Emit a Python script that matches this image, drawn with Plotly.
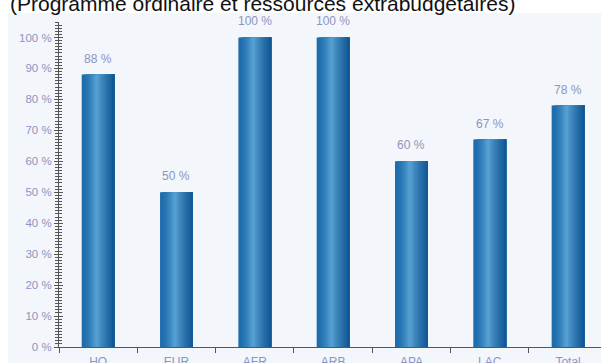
import plotly.graph_objects as go

# Data
categories = ["HQ", "EUR", "AFR", "ARB", "APA", "LAC", "Total"]
values = [88, 50, 100, 100, 60, 67, 78]
y_ticks = list(range(0, 101, 10))
y_tick_labels = [f"{t} %" for t in y_ticks]

title = "(Programme ordinaire et ressources extrabudgétaires)"

# Style
bg = "#f3f6fa"
label_color = "#8c95c2"
axis_color = "#555555"
bar_width = 0.42

# Horizontal gradient across each bar: dark edges, light band near the middle
def lerp(c1, c2, t):
    return tuple(round(a + (b - a) * t) for a, b in zip(c1, c2))

left = (30, 108, 172)
light = (90, 164, 214)
right = (18, 88, 150)
n_strips = 18
peak = 0.45
strip_colors = []
for k in range(n_strips):
    p = k / (n_strips - 1)
    if p <= peak:
        t = p / peak
        c = lerp(left, light, t ** 1.6)
    else:
        t = (p - peak) / (1 - peak)
        c = lerp(light, right, t ** 0.8)
    strip_colors.append("rgb(%d,%d,%d)" % c)

fig = go.Figure()
step = bar_width / n_strips
for k, col in enumerate(strip_colors):
    off = -bar_width / 2 + k * step
    fig.add_trace(go.Bar(
        x=categories, y=values,
        width=bar_width / 2 - off,
        offset=off,
        marker=dict(color=col, line=dict(width=0)),
        hoverinfo="skip", showlegend=False,
    ))

# Value labels above the bars
for c, v in zip(categories, values):
    fig.add_annotation(x=c, y=v, text=f"{v} %", showarrow=False,
                       yanchor="bottom", yshift=7,
                       font=dict(size=12, color=label_color))

# Light panel behind the chart, white strip above it
fig.add_shape(type="rect", xref="paper", yref="paper", layer="below",
              x0=(8 - 59) / 542, x1=1.0, y0=-16 / 325, y1=1 + 9 / 325,
              fillcolor=bg, line=dict(width=0))

# Title, partly above the visible area
fig.add_annotation(xref="paper", yref="paper", x=(8 - 59) / 542, y=1.057,
                   xanchor="left", yanchor="middle", text=title,
                   showarrow=False, font=dict(size=21, color="#111111"))

fig.update_layout(
    width=601, height=363,
    margin=dict(l=59, r=0, t=22, b=16),
    paper_bgcolor="#ffffff", plot_bgcolor="rgba(0,0,0,0)",
    font=dict(family="Liberation Sans, Arial, sans-serif", size=12, color=label_color),
    barmode="overlay",
    xaxis=dict(
        type="category", range=[-0.5, 6.42], automargin=False,
        showline=True, linecolor=axis_color, linewidth=1,
        ticks="outside", tickson="boundaries", ticklen=5, tickcolor=axis_color,
        showgrid=False, zeroline=False, ticklabelstandoff=4,
        tickfont=dict(size=12, color=label_color),
    ),
    yaxis=dict(
        range=[0, 105], automargin=False,
        tickvals=y_ticks, ticktext=y_tick_labels,
        showline=True, linecolor=axis_color, linewidth=1,
        ticks="outside", ticklen=4, tickcolor=axis_color,
        minor=dict(dtick=1, ticks="outside", ticklen=3, tickcolor=axis_color),
        showgrid=False, zeroline=False,
        tickfont=dict(size=11.5, color=label_color),
    ),
    yaxis2=dict(
        range=[0, 105], overlaying="y", side="left", automargin=False,
        tickvals=y_ticks, showticklabels=False,
        ticks="inside", ticklen=4, tickcolor=axis_color,
        minor=dict(dtick=1, ticks="inside", ticklen=3, tickcolor=axis_color),
        showgrid=False, zeroline=False, showline=False,
    ),
)

# Invisible trace to carry the second y axis (inward tick marks)
fig.add_trace(go.Scatter(x=[categories[0]], y=[0], yaxis="y2", mode="markers",
                         marker=dict(opacity=0), hoverinfo="skip", showlegend=False))

fig.write_html("out.html")
